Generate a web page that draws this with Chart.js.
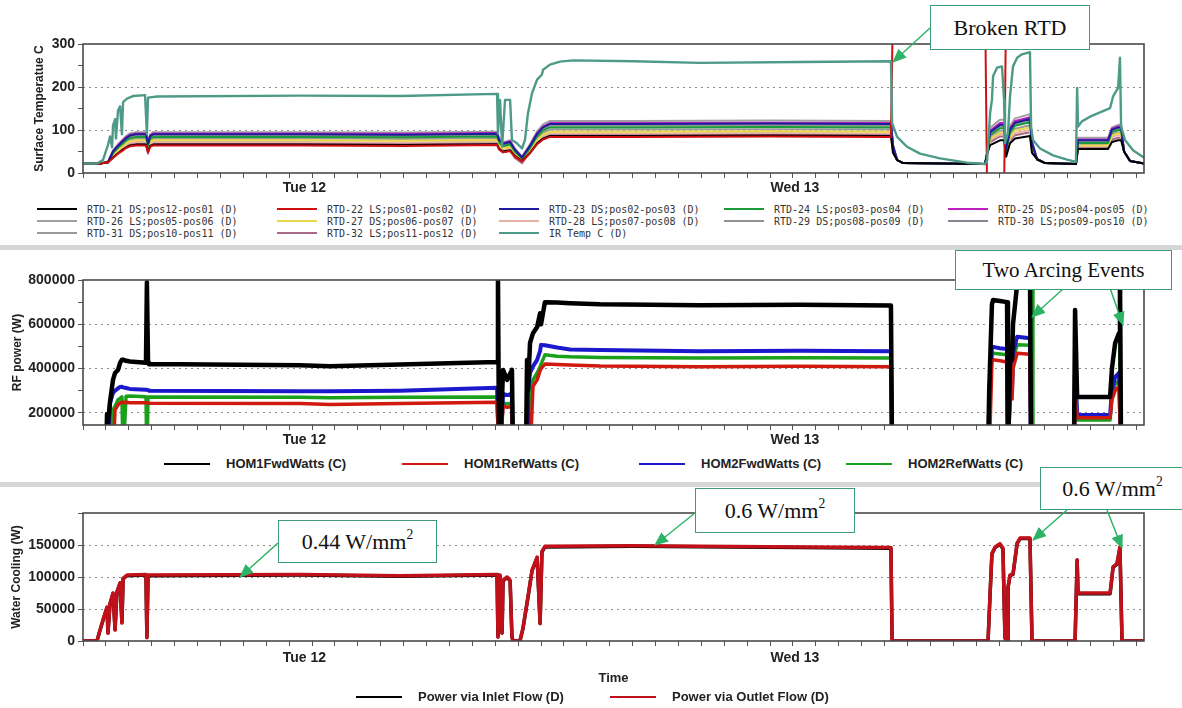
<!DOCTYPE html>
<html>
<head>
<meta charset="utf-8">
<script src="https://cdn.jsdelivr.net/npm/chart.js@4.4.1/dist/chart.umd.min.js"></script>
<style>
  body { margin: 0; background: #fff; width: 1182px; height: 708px; position: relative; overflow: hidden; font-family: "Liberation Sans", Arial, sans-serif; }
  canvas { position: absolute; left: 0; }
  .sep { position: absolute; left: 0; width: 1182px; height: 5px; background: #d6d6d6; }
  .leg { position: absolute; white-space: nowrap; line-height: 12px; }
  .mono { font: 10px "DejaVu Sans Mono", monospace; color: #333; }
  .bold { font: bold 13px "Liberation Sans", Arial, sans-serif; color: #222; line-height: 16px; }
  .sw { position: absolute; height: 2px; }
  svg { position: absolute; left: 0; top: 0; z-index: 2; }
  .note { position: absolute; z-index: 3; background: #fff; border: 1.5px solid #3c9c78; box-sizing: border-box;
          font-family: "Liberation Serif", "Times New Roman", serif; color: #111;
          display: flex; align-items: center; justify-content: center; white-space: nowrap; }
  .note sup { font-size: 0.62em; vertical-align: baseline; position: relative; top: -0.5em; }
</style>
</head>
<body>
<canvas id="temp" width="1182" height="200" style="top:0"></canvas>
<div class="sep" style="top:245px"></div>
<canvas id="rf" width="1182" height="200" style="top:250px"></canvas>
<div class="sep" style="top:482px"></div>
<canvas id="water" width="1182" height="221" style="top:487px"></canvas>
<div id="legends"></div>

<svg width="1182" height="708">
  <defs>
    <marker id="ah" markerWidth="14" markerHeight="12" refX="13" refY="6" orient="auto" markerUnits="userSpaceOnUse">
      <path d="M0,0 L14,6 L0,12 z" fill="#2db366"/>
    </marker>
  </defs>
  <g stroke="#2db366" stroke-width="1.5" marker-end="url(#ah)">
    <line x1="930" y1="28" x2="893" y2="62"/>
    <line x1="1063" y1="289" x2="1032" y2="317"/>
    <line x1="1110" y1="288" x2="1123" y2="325"/>
    <line x1="278" y1="543" x2="240" y2="577"/>
    <line x1="695" y1="513" x2="655" y2="545"/>
    <line x1="1067" y1="510" x2="1033" y2="540"/>
    <line x1="1107" y1="510" x2="1122" y2="548"/>
  </g>
</svg>
<div class="note" style="left:930px;top:5px;width:160px;height:45px;font-size:22px">Broken RTD</div>
<div class="note" style="left:955px;top:250px;width:217px;height:40px;font-size:21px">Two Arcing Events</div>
<div class="note" style="left:278px;top:520px;width:159px;height:43px;font-size:22px">0.44 W/mm<sup>2</sup></div>
<div class="note" style="left:695px;top:488px;width:160px;height:45px;font-size:22px">0.6 W/mm<sup>2</sup></div>
<div class="note" style="left:1040px;top:467px;width:145px;height:43px;font-size:22px">0.6 W/mm<sup>2</sup></div>

<script>
// time axis in hours from start of the plot
const hourMax = 46.33;
const hourTicks = [0,1,2,3,4,5,6,7,8,9,10,11,12,13,14,15,16,17,18,19,20,21,22,23,24,25,26,27,28,29,30,31,32,33,34,35,36,37,38,39,40,41,42,43,44,45,46];
const dayLabels = ['Tue 12', 'Wed 13'];
const dayPos = [9.67, 31.09];

// ---- surface temperature panel ----
const rtdTimes = [0, 0.74, 1.09, 1.31, 1.53, 1.70, 1.88, 2.05, 2.31, 2.75, 2.84, 2.93, 3.06, 9.5, 14.0, 18.08, 18.17, 18.34, 18.65, 18.86,
  19.17, 19.52, 19.83, 20.09, 20.39, 24.0, 30.0, 35.28, 35.37, 35.55, 35.81, 39.39, 39.48, 39.61, 40.04, 40.22, 40.31, 40.48, 40.70, 41.35,
  41.44, 41.66, 42.01, 43.36, 43.45, 44.76, 44.93, 45.20, 45.33, 45.46, 45.72, 46.33];
const rtd21 = [22,22,25,36,46,53,59,64,66,66,50,63,66,66,65,67,56,50,53,40,28,47,69,80,86,86,87,86,47,30,23,21,45,65,76,76,38,69,80,86,47,32,23,21,56,56,72,76,76,50,28,22];
const rtd22 = [22,22,25,35,45,51,58,62,64,64,48,61,64,64,63,65,54,48,51,38,27,46,67,78,84,84,85,84,400,400,400,400,-50,-50,-50,-50,400,400,400,400,400,400,400,400,400,400,400,400,400,400,400,400];
const rtd23 = [22,22,25,50,63,72,81,87,90,90,68,86,90,90,89,91,77,68,72,54,36,63,91,106,114,114,115,114,63,30,23,21,45,95,112,112,56,101,117,126,69,32,23,21,76,76,101,106,106,50,28,22];
const rtd24 = [22,22,25,46,59,67,76,81,84,84,63,80,84,84,83,85,71,63,67,50,34,58,85,99,106,106,107,106,58,30,23,21,45,88,104,104,52,94,110,118,65,32,23,21,70,70,95,100,100,50,28,22];
const rtd25 = [22,22,25,51,64,74,83,89,92,92,69,87,92,92,91,93,78,69,74,55,37,64,93,108,116,116,117,116,64,30,23,21,45,99,116,116,58,104,121,130,72,32,23,21,78,78,103,108,108,50,28,22];
const rtd26 = [22,22,25,52,67,76,86,92,95,95,71,90,95,95,94,96,81,71,76,57,38,67,97,113,121,121,122,121,67,30,23,21,45,105,124,124,62,110,127,137,75,32,23,21,82,82,106,112,112,50,28,22];
const rtd27 = [22,22,25,42,53,61,68,74,76,76,57,72,76,76,75,77,65,57,61,46,30,53,77,89,96,96,97,96,53,30,23,21,45,80,94,94,47,85,99,106,58,32,23,21,64,64,87,92,92,50,28,22];
const rtd28 = [22,22,25,40,50,58,65,70,72,72,54,68,72,72,71,73,61,54,58,43,29,51,74,86,92,92,93,92,51,30,23,21,45,77,90,90,45,80,93,100,55,32,23,21,62,62,84,88,88,50,28,22];
const rtd29 = [22,22,25,48,61,70,78,84,87,87,65,83,87,87,86,88,74,65,70,52,35,61,88,102,110,110,111,110,61,30,23,21,45,92,108,108,54,98,113,122,67,32,23,21,73,73,98,103,103,50,28,22];
const rtd30 = [22,22,25,49,62,71,80,86,89,89,67,85,89,89,88,90,76,67,71,53,36,62,90,104,112,112,113,112,62,30,23,21,45,94,110,110,55,99,115,124,68,32,23,21,74,74,99,104,104,50,28,22];
const rtd31 = [22,22,25,44,56,64,72,78,80,80,60,76,80,80,79,81,68,60,64,48,32,56,81,94,101,101,102,101,56,30,23,21,45,83,98,98,49,89,103,111,61,32,23,21,67,67,90,95,95,50,28,22];
const rtd32 = [22,22,25,38,48,55,62,67,69,69,45,66,69,69,68,70,59,48,52,35,23,49,71,83,89,89,90,89,49,30,23,21,45,72,85,85,43,76,88,95,52,32,23,21,58,58,78,82,82,50,28,22];
const irTimes = [0, 0.61, 0.87, 1.09, 1.18, 1.27, 1.31, 1.40, 1.44, 1.53, 1.62, 1.70, 1.75, 1.92, 2.18, 2.71, 2.79, 2.84, 2.93, 3.23,
  9.48, 13.84, 18.08, 18.12, 18.21, 18.30, 18.43, 18.65, 18.73, 18.95, 19.17, 19.30, 19.43, 19.61, 19.83, 20.04, 20.09, 20.39, 20.83, 21.40,
  24.02, 26.94, 31.31, 35.28, 35.33, 35.55, 35.98, 36.55, 37.42, 38.60, 39.39, 39.48, 39.61, 39.69, 39.74, 39.91, 40.13, 40.22, 40.26, 40.39,
  40.48, 40.61, 40.79, 41.00, 41.35, 41.40, 41.48, 41.79, 42.36, 42.97, 43.36, 43.41, 43.45, 43.62, 43.97, 44.41, 44.85, 44.98, 45.20, 45.28,
  45.33, 45.50, 45.85, 46.29, 46.33];
const irTemp = [22,22,30,65,85,60,110,125,80,146,155,90,165,173,179,181,90,175,176,178,
  180,179,184,92,170,61,170,170,77,69,57,77,139,186,217,229,240,252,259,262,
  260,256,258,260,116,84,61,45,34,24,21,30,139,170,225,245,248,170,69,92,
  178,248,268,276,281,108,77,57,41,31,26,198,108,120,131,141,151,178,198,268,
  108,77,53,37,36];
const rtdNames = ['RTD-21 DS;pos12-pos01 (D)', 'RTD-22 LS;pos01-pos02 (D)', 'RTD-23 DS;pos02-pos03 (D)', 'RTD-24 LS;pos03-pos04 (D)',
  'RTD-25 DS;pos04-pos05 (D)', 'RTD-26 LS;pos05-pos06 (D)', 'RTD-27 DS;pos06-pos07 (D)', 'RTD-28 LS;pos07-pos08 (D)',
  'RTD-29 DS;pos08-pos09 (D)', 'RTD-30 LS;pos09-pos10 (D)', 'RTD-31 DS;pos10-pos11 (D)', 'RTD-32 LS;pos11-pos12 (D)', 'IR Temp C (D)'];
const rtdColors = ['#000000', '#d01010', '#1c1c9c', '#1a9a3a', '#c020c0', '#a0a0a0', '#e8d84a', '#e8b0a8',
  '#8c948c', '#8a8290', '#9a9a9a', '#a86888', '#4e9a88'];
const tempTicks = [0, 50, 100, 150, 200, 250, 300];
const tempLabels = [0, 100, 200, 300];

// ---- RF power panel ----
const rfTimes = [0, 1.00, 1.05, 1.09, 1.18, 1.31, 1.40, 1.53, 1.62, 1.70, 1.75, 1.88, 2.05, 2.75, 2.79, 2.84, 2.88, 9.48, 10.79, 13.84,
  18.08, 18.12, 18.17, 18.21, 18.34, 18.52, 18.73, 18.78, 19.34, 19.39, 19.43, 19.52, 19.65, 19.83, 19.96, 20.00, 20.17, 20.70, 21.27, 22.58,
  26.94, 31.31, 35.28, 35.33, 39.52, 39.57, 39.69, 39.74, 40.04, 40.35, 40.39, 40.48, 40.57, 40.61, 40.79, 41.35, 41.40, 41.44, 41.48, 43.27,
  43.32, 43.41, 44.85, 44.93, 45.07, 45.24, 45.28, 45.33, 46.33];
const hom1Fwd = [0,0,195000,150000,250000,349000,380000,394000,426000,440000,440000,435000,432000,426000,790000,426000,420000,415000,410000,418000,
  430000,820000,0,0,394000,349000,394000,0,0,439000,300000,516000,560000,588000,650000,600000,700000,698000,695000,690000,
  686000,688000,685000,0,0,300000,690000,710000,705000,700000,0,440000,440000,600000,780000,850000,0,0,0,0,
  665000,272000,272000,400000,515000,560000,850000,0,0];
const hom1Ref = [0,0,0,0,0,0,214000,235000,245000,248000,247000,248000,246000,245000,245000,244000,243000,242000,238000,242000,
  248000,248000,0,0,230000,225000,228000,0,0,0,0,0,320000,349000,390000,400000,420000,418000,416000,411000,
  408000,410000,408000,0,0,0,431000,440000,435000,430000,0,262000,262000,400000,469000,465000,0,0,0,0,
  300000,178000,178000,260000,300000,320000,320000,0,0];
const hom2Fwd = [0,0,0,0,245000,290000,300000,310000,317000,318000,315000,312000,308000,304000,304000,302000,300000,298000,297000,300000,
  313000,313000,0,0,286000,280000,286000,0,0,0,300000,380000,410000,439000,480000,507000,505000,495000,486000,484000,
  478000,480000,478000,0,0,250000,499000,498000,492000,488000,0,313000,313000,470000,544000,537000,0,0,0,0,
  420000,190000,190000,300000,362000,380000,380000,0,0];
const hom2Ref = [0,0,0,0,0,214000,230000,259000,265000,272000,0,275000,276000,273000,0,272000,272000,270000,268000,270000,
  272000,272000,0,0,245000,240000,245000,0,0,0,0,300000,349000,380000,408000,420000,462000,456000,453000,450000,
  448000,449000,448000,0,0,200000,469000,469000,466000,462000,0,280000,280000,440000,507000,505000,0,850000,0,0,
  440000,168000,168000,280000,330000,345000,850000,0,0];
const rfNames = ['HOM1FwdWatts (C)', 'HOM1RefWatts (C)', 'HOM2FwdWatts (C)', 'HOM2RefWatts (C)'];
const rfColors = ['#000000', '#d01a10', '#1a1acc', '#1aa01a'];
const rfWidths = [4.5, 3.5, 4, 3.5];
const rfTicks = [200000, 300000, 400000, 500000, 600000, 700000, 800000];
const rfLabels = [200000, 400000, 600000, 800000];

// ---- water cooling panel ----
const wcTimes = [0, 0.61, 0.74, 0.87, 1.05, 1.09, 1.18, 1.31, 1.40, 1.48, 1.62, 1.70, 1.75, 1.92, 2.75, 2.79, 2.84, 9.48, 13.84, 18.08,
  18.12, 18.21, 18.30, 18.34, 18.52, 18.65, 18.73, 18.78, 19.08, 19.21, 19.30, 19.43, 19.61, 19.83, 19.96, 20.04, 20.17, 24.02, 31.31, 35.28,
  35.33, 39.52, 39.61, 39.69, 39.83, 40.04, 40.17, 40.26, 40.35, 40.39, 40.48, 40.61, 40.79, 40.92, 41.35, 41.44, 43.32, 43.41, 43.45, 44.85,
  44.98, 45.15, 45.28, 45.37, 46.33];
const inletPower = [0,0,16000,32000,52000,13000,58000,74000,18000,76000,90000,29000,97000,102000,103000,6000,102000,103000,101000,103000,
  7000,102000,13000,94000,99000,94000,7000,0,0,19000,39000,68000,110000,130000,28000,139000,147000,148000,146000,145000,
  0,0,74000,136000,146000,151000,144000,5000,0,83000,102000,104000,152000,160000,160000,0,0,126000,74000,74000,
  115000,120000,146000,0,0];
const outletPower = [0,0,17000,33000,53000,12000,59000,75000,17000,77000,91000,28000,98000,103000,104000,5000,103000,104000,102000,104000,
  6000,103000,12000,95000,100000,95000,6000,0,0,20000,40000,69000,111000,131000,27000,140000,148000,149000,147000,146000,
  0,0,75000,137000,147000,152000,145000,4000,0,84000,103000,105000,153000,161000,161000,0,0,127000,75000,75000,
  116000,121000,147000,0,0];
const wcNames = ['Power via Inlet Flow (D)', 'Power via Outlet Flow (D)'];
const wcColors = ['#000000', '#c0101a'];
const wcTicks = [0, 25000, 50000, 75000, 100000, 125000, 150000, 175000, 200000];
const wcLabels = [0, 50000, 100000, 150000];

const pts = (times, vals) => times.map((t, i) => ({ x: t, y: vals[i] }));

// plot frame round the chart area
const frame = {
  id: 'frame',
  afterDatasetsDraw(chart) {
    const { ctx, chartArea: a } = chart;
    ctx.save();
    ctx.strokeStyle = '#4a4a4a';
    ctx.lineWidth = 1.6;
    ctx.strokeRect(a.left, a.top, a.right - a.left, a.bottom - a.top);
    ctx.restore();
  }
};

const tickFont = { family: '"Liberation Sans", Arial, sans-serif', size: 14, weight: 'bold' };

function panel(id, o) {
  return new Chart(document.getElementById(id), {
    type: 'line',
    data: { datasets: o.datasets },
    options: {
      responsive: false,
      animation: false,
      devicePixelRatio: 1,
      layout: { padding: { left: 0, right: 38, top: o.padTop, bottom: 0 } },
      elements: { point: { radius: 0 }, line: { tension: 0, borderJoinStyle: 'round' } },
      plugins: { legend: { display: false }, tooltip: { enabled: false } },
      scales: {
        x: {
          type: 'linear', min: 0, max: hourMax, weight: 0,
          afterBuildTicks: s => { s.ticks = hourTicks.map(v => ({ value: v })); },
          afterFit: s => { s.height = 5; },
          ticks: { display: false },
          grid: { drawOnChartArea: false, tickLength: 5, tickColor: '#555' },
          border: { display: false }
        },
        xd: {
          type: 'linear', position: 'bottom', min: 0, max: hourMax, weight: 1,
          afterBuildTicks: s => { s.ticks = dayPos.map(v => ({ value: v })); },
          afterFit: s => { s.height = o.xdHeight; },
          ticks: { callback: (v, i) => dayLabels[i], font: tickFont, color: '#222', padding: o.dayPad, maxRotation: 0, autoSkip: false },
          grid: { display: false, drawTicks: false },
          border: { display: false },
          title: {
            display: !!o.xTitle, text: o.xTitle || '', color: '#222',
            font: { family: '"Liberation Sans", Arial, sans-serif', size: 13, weight: 'bold' },
            padding: { top: 0, bottom: o.xTitlePad || 0 }
          }
        },
        y: {
          min: o.yMin, max: o.yMax,
          afterBuildTicks: s => { s.ticks = o.yTicks.map(v => ({ value: v })); },
          afterFit: s => { s.width = 83; },
          ticks: { callback: v => (o.yLabels.includes(v) ? String(v) : ''), font: tickFont, color: '#222', padding: 3 },
          grid: {
            color: c => (o.yLabels.includes(c.tick.value) && c.tick.value !== o.yMin && c.tick.value !== o.yMax) ? '#8c8c8c' : 'rgba(0,0,0,0)',
            tickColor: '#555', tickLength: 5
          },
          border: { display: false, dash: [2, 4] },
          title: {
            display: true, text: o.yTitle, color: '#222',
            font: { family: '"Liberation Sans", Arial, sans-serif', size: 12, weight: 'bold' },
            padding: { top: o.yTitlePad, bottom: 0 }
          }
        }
      }
    },
    plugins: [frame]
  });
}

const rtdSeries = [rtd21, rtd22, rtd23, rtd24, rtd25, rtd26, rtd27, rtd28, rtd29, rtd30, rtd31, rtd32];
const tempSets = rtdSeries.map((vals, i) => ({
  data: pts(rtdTimes, vals), borderColor: rtdColors[i], borderWidth: 2, order: i === 1 ? 1 : 2
}));
tempSets.push({ data: pts(irTimes, irTemp), borderColor: rtdColors[12], borderWidth: 2.4, order: 0 });

panel('temp', {
  datasets: tempSets, padTop: 44, xdHeight: 22, dayPad: 2,
  yMin: 0, yMax: 300, yTicks: tempTicks, yLabels: tempLabels,
  yTitle: 'Surface Temperatue C', yTitlePad: 32
});

const rfSeries = [hom1Fwd, hom1Ref, hom2Fwd, hom2Ref];
panel('rf', {
  datasets: rfSeries.map((vals, i) => ({ data: pts(rfTimes, vals), borderColor: rfColors[i], borderWidth: rfWidths[i], order: i })),
  padTop: 30, xdHeight: 20, dayPad: 2,
  yMin: 145000, yMax: 800000, yTicks: rfTicks, yLabels: rfLabels,
  yTitle: 'RF power (W)', yTitlePad: 10
});

const wcSeries = [inletPower, outletPower];
panel('water', {
  datasets: wcSeries.map((vals, i) => ({ data: pts(wcTimes, vals), borderColor: wcColors[i], borderWidth: 3.5, order: 1 - i })),
  padTop: 26, xdHeight: 62, dayPad: 4, xTitle: 'Time', xTitlePad: 22,
  yMin: 0, yMax: 200000, yTicks: wcTicks, yLabels: wcLabels,
  yTitle: 'Water Cooling (W)', yTitlePad: 9
});

// legends (HTML, laid out like the original report)
const legendBox = document.getElementById('legends');
function addLegend(name, color, x, y, cls, lineLen, gap) {
  const sw = document.createElement('div');
  sw.className = 'sw';
  sw.style.cssText = `left:${x - gap - lineLen}px;top:${y - 1}px;width:${lineLen}px;background:${color}`;
  const tx = document.createElement('div');
  tx.className = 'leg ' + cls;
  tx.style.cssText = `left:${x}px;top:${y - (cls === 'mono' ? 5 : 8)}px`;
  tx.textContent = name;
  legendBox.appendChild(sw);
  legendBox.appendChild(tx);
}
const tempLegX = [87, 327, 549, 774, 998];
const tempLegY = [209, 221, 233];
rtdNames.forEach((n, i) => addLegend(n, rtdColors[i], tempLegX[i % 5], tempLegY[Math.floor(i / 5)], 'mono', 40, 10));
const rfLegX = [226, 464, 701, 908];
rfNames.forEach((n, i) => addLegend(n, rfColors[i], rfLegX[i], 464, 'bold', 46, 16));
const wcLegX = [418, 672];
wcNames.forEach((n, i) => addLegend(n, wcColors[i], wcLegX[i], 697, 'bold', 46, 16));
</script>
</body>
</html>
